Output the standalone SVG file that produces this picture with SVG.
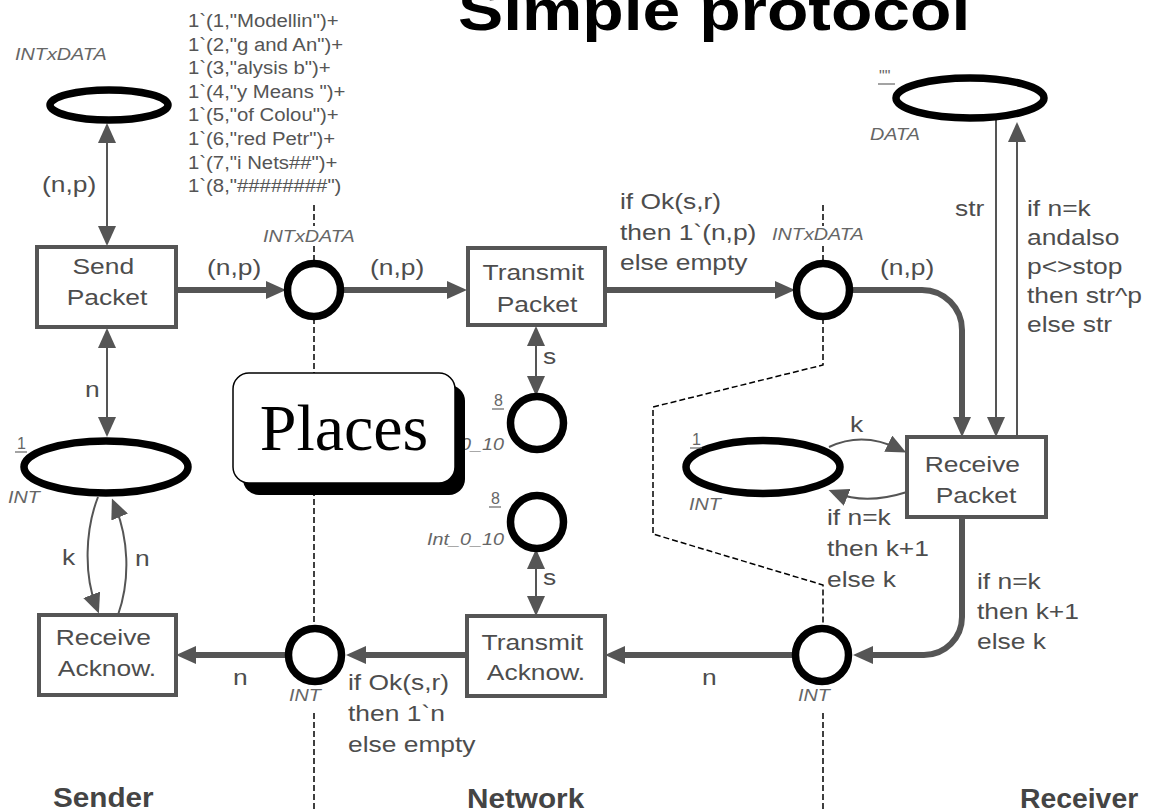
<svg xmlns="http://www.w3.org/2000/svg" width="1151" height="812" viewBox="0 0 1151 812">
  <style>
    .lbl { font-family: "Liberation Sans", Arial, sans-serif; font-size: 22px; fill: #4d4d4d; }
    .typ { font-family: "Liberation Sans", Arial, sans-serif; font-size: 16.5px; font-style: italic; fill: #666; }
    .tok { font-family: "Liberation Sans", Arial, sans-serif; font-size: 18px; fill: #555; }
    .mark { font-family: "Liberation Sans", Arial, sans-serif; font-size: 16px; fill: #666; }
    .head { font-family: "Liberation Sans", Arial, sans-serif; font-size: 27px; font-weight: bold; fill: #444; }
    .title { font-family: "Liberation Sans", Arial, sans-serif; font-size: 57px; font-weight: bold; fill: #000; }
    .place { fill: #fff; stroke: #000; stroke-width: 7.5; }
    .trans { fill: #fff; stroke: #555; stroke-width: 4; }
    .arc { fill: none; stroke: #555; stroke-width: 2; }
    .arcw { fill: none; stroke: #555; stroke-width: 6; }
    .bound { fill: none; stroke: #000; stroke-width: 1.5; stroke-dasharray: 6 3; }
    .ul { stroke: #666; stroke-width: 1.2; }
  </style>
  <defs>
    <marker id="ah" markerUnits="userSpaceOnUse" markerWidth="20" markerHeight="18" refX="12" refY="9" orient="auto-start-reverse">
      <path d="M0,0 L20,9 L0,18 z" fill="#555"/>
    </marker>
  </defs>

  <rect width="1151" height="812" fill="#fff"/>

  <!-- title -->
  <text class="title" transform="translate(458,0) scale(1.19,1)" x="0" y="30">Simple protocol</text>

  <!-- page boundaries between sender, network and receiver -->
  <g id="boundaries">
    <path class="bound" d="M314,205 V226 M314,246 V264 M314,318 V376 M314,490 V628 M314,713 V812"/>
    <path class="bound" d="M823,205 V226 M823,246 V264 M823,318 V365 L653,407 V534 L823,585 V628 M823,713 V812"/>
  </g>

  <!-- arcs -->
  <g id="connectors">
    <path class="arc" d="M107,131 V238" marker-start="url(#ah)" marker-end="url(#ah)"/>
    <path class="arc" d="M107,336 V429" marker-start="url(#ah)" marker-end="url(#ah)"/>
    <path class="arcw" d="M176,290 H278" marker-end="url(#ah)"/>
    <path class="arcw" d="M341,290 H459" marker-end="url(#ah)"/>
    <path class="arcw" d="M605,290 H787" marker-end="url(#ah)"/>
    <path class="arcw" d="M850,290 H922 A40,40 0 0 1 962,330 V429" marker-end="url(#ah)"/>
    <path class="arc" d="M996,119 V429" marker-end="url(#ah)"/>
    <path class="arc" d="M1017,437 V130" marker-end="url(#ah)"/>
    <path class="arc" d="M829,447 Q863,431 899,449" marker-end="url(#ah)"/>
    <path class="arc" d="M907,492 Q866,505 836,493" marker-end="url(#ah)"/>
    <path class="arc" d="M536,334 V388" marker-start="url(#ah)" marker-end="url(#ah)"/>
    <path class="arc" d="M536,557 V608" marker-start="url(#ah)" marker-end="url(#ah)"/>
    <path class="arcw" d="M962,517 V617 A38,38 0 0 1 924,655 H861" marker-end="url(#ah)"/>
    <path class="arcw" d="M793,655 H613" marker-end="url(#ah)"/>
    <path class="arcw" d="M467,655 H354" marker-end="url(#ah)"/>
    <path class="arcw" d="M285,655 H184" marker-end="url(#ah)"/>
    <path class="arc" d="M98,497 C85,530 84,575 96,606" marker-end="url(#ah)"/>
    <path class="arc" d="M118,615 C131,578 128,537 115,506" marker-end="url(#ah)"/>
  </g>

  <!-- arc inscriptions -->
  <g id="inscriptions">
    <text class="lbl" transform="translate(42,0) scale(1.2,1)" y="192">(n,p)</text>
    <text class="lbl" transform="translate(207,0) scale(1.2,1)" y="275">(n,p)</text>
    <text class="lbl" transform="translate(370,0) scale(1.2,1)" y="275">(n,p)</text>
    <text class="lbl" transform="translate(880,0) scale(1.2,1)" y="275">(n,p)</text>
    <text class="lbl" transform="translate(85,0) scale(1.2,1)" y="397">n</text>
    <text class="lbl" transform="translate(62,0) scale(1.2,1)" y="565">k</text>
    <text class="lbl" transform="translate(135,0) scale(1.2,1)" y="566">n</text>
    <text class="lbl" transform="translate(233,0) scale(1.2,1)" y="685">n</text>
    <text class="lbl" transform="translate(702,0) scale(1.2,1)" y="685">n</text>
    <text class="lbl" transform="translate(543,0) scale(1.2,1)" y="364">s</text>
    <text class="lbl" transform="translate(543,0) scale(1.2,1)" y="585">s</text>
    <text class="lbl" transform="translate(850,0) scale(1.2,1)" y="432">k</text>
    <text class="lbl" transform="translate(955,0) scale(1.2,1)" y="216">str</text>
    <text class="lbl" transform="translate(620,0) scale(1.2,1)">
      <tspan x="0" y="209">if Ok(s,r)</tspan>
      <tspan x="0" y="240">then 1`(n,p)</tspan>
      <tspan x="0" y="270">else empty</tspan>
    </text>
    <text class="lbl" transform="translate(1027,0) scale(1.2,1)">
      <tspan x="0" y="216">if n=k</tspan>
      <tspan x="0" y="245">andalso</tspan>
      <tspan x="0" y="274">p&lt;&gt;stop</tspan>
      <tspan x="0" y="303">then str^p</tspan>
      <tspan x="0" y="332">else str</tspan>
    </text>
    <text class="lbl" transform="translate(827,0) scale(1.2,1)">
      <tspan x="0" y="525">if n=k</tspan>
      <tspan x="0" y="556">then k+1</tspan>
      <tspan x="0" y="587">else k</tspan>
    </text>
    <text class="lbl" transform="translate(977,0) scale(1.2,1)">
      <tspan x="0" y="589">if n=k</tspan>
      <tspan x="0" y="619">then k+1</tspan>
      <tspan x="0" y="649">else k</tspan>
    </text>
    <text class="lbl" transform="translate(348,0) scale(1.2,1)">
      <tspan x="0" y="690">if Ok(s,r)</tspan>
      <tspan x="0" y="721">then 1`n</tspan>
      <tspan x="0" y="752">else empty</tspan>
    </text>
  </g>

  <!-- places -->
  <g id="packets-to-send">
    <ellipse class="place" cx="109" cy="105" rx="59" ry="15"/>
    <text class="typ" transform="translate(15,0) scale(1.2,1)" y="60">INTxDATA</text>
    <text class="tok" transform="translate(188,0) scale(1.13,1)">
      <tspan x="0" y="27">1`(1,"Modellin")+</tspan>
      <tspan x="0" y="50.6">1`(2,"g and An")+</tspan>
      <tspan x="0" y="74.2">1`(3,"alysis b")+</tspan>
      <tspan x="0" y="97.8">1`(4,"y Means ")+</tspan>
      <tspan x="0" y="121.4">1`(5,"of Colou")+</tspan>
      <tspan x="0" y="145">1`(6,"red Petr")+</tspan>
      <tspan x="0" y="168.6">1`(7,"i Nets##")+</tspan>
      <tspan x="0" y="192.2">1`(8,"########")</tspan>
    </text>
  </g>

  <g id="next-send">
    <ellipse class="place" cx="106" cy="467" rx="82" ry="26"/>
    <text class="mark" x="17" y="449">1</text>
    <line class="ul" x1="15" y1="452" x2="27" y2="452"/>
    <text class="typ" transform="translate(8,0) scale(1.2,1)" y="503">INT</text>
  </g>

  <g id="a-place">
    <circle class="place" cx="314" cy="290" r="26.5"/>
    <text class="typ" transform="translate(263,0) scale(1.2,1)" y="242">INTxDATA</text>
  </g>

  <g id="b-place">
    <circle class="place" cx="823" cy="290" r="26.5"/>
    <text class="typ" transform="translate(772,0) scale(1.2,1)" y="240">INTxDATA</text>
  </g>

  <g id="received-data">
    <ellipse class="place" cx="970" cy="98" rx="74" ry="20"/>
    <text class="mark" x="879" y="82">""</text>
    <line class="ul" x1="878" y1="84" x2="895" y2="84"/>
    <text class="typ" transform="translate(870,0) scale(1.2,1)" y="140">DATA</text>
  </g>

  <g id="next-rec">
    <ellipse class="place" cx="763" cy="467" rx="77" ry="26.5"/>
    <text class="mark" x="692" y="445">1</text>
    <line class="ul" x1="690" y1="448" x2="702" y2="448"/>
    <text class="typ" transform="translate(689,0) scale(1.2,1)" y="510">INT</text>
  </g>

  <g id="success-packet">
    <circle class="place" cx="537" cy="423" r="26.5"/>
    <text class="mark" x="494" y="406">8</text>
    <line class="ul" x1="492" y1="409" x2="504" y2="409"/>
    <text class="typ" transform="translate(427,0) scale(1.2,1)" y="450">Int_0_10</text>
  </g>

  <g id="success-ack">
    <circle class="place" cx="537" cy="522" r="26.5"/>
    <text class="mark" x="491" y="504">8</text>
    <line class="ul" x1="489" y1="507" x2="501" y2="507"/>
    <text class="typ" transform="translate(427,0) scale(1.2,1)" y="545">Int_0_10</text>
  </g>

  <g id="c-place">
    <circle class="place" cx="822" cy="655" r="26.5"/>
    <text class="typ" transform="translate(798,0) scale(1.2,1)" y="701">INT</text>
  </g>

  <g id="d-place">
    <circle class="place" cx="315" cy="655" r="26.5"/>
    <text class="typ" transform="translate(289,0) scale(1.2,1)" y="701">INT</text>
  </g>

  <!-- transitions -->
  <g id="send-packet">
    <rect class="trans" x="37" y="247" width="139" height="80"/>
    <text class="lbl" text-anchor="middle" transform="translate(107,0) scale(1.2,1)">
      <tspan x="0" y="274">Send</tspan>
      <tspan x="0" y="305">Packet</tspan>
    </text>
  </g>

  <g id="transmit-packet">
    <rect class="trans" x="468" y="248" width="137" height="77"/>
    <text class="lbl" text-anchor="middle" transform="translate(537,0) scale(1.2,1)">
      <tspan x="0" y="280">Transmit</tspan>
      <tspan x="0" y="312">Packet</tspan>
    </text>
  </g>

  <g id="receive-packet">
    <rect class="trans" x="907" y="437" width="139" height="80"/>
    <text class="lbl" text-anchor="middle" transform="translate(976,0) scale(1.2,1)">
      <tspan x="0" y="472">Receive</tspan>
      <tspan x="0" y="503">Packet</tspan>
    </text>
  </g>

  <g id="transmit-ack">
    <rect class="trans" x="467" y="616" width="138" height="80"/>
    <text class="lbl" text-anchor="middle" transform="translate(536,0) scale(1.2,1)">
      <tspan x="0" y="650">Transmit</tspan>
      <tspan x="0" y="680">Acknow.</tspan>
    </text>
  </g>

  <g id="receive-ack">
    <rect class="trans" x="39" y="615" width="137" height="80"/>
    <text class="lbl" text-anchor="middle" transform="translate(107,0) scale(1.2,1)">
      <tspan x="0" y="645">Receive</tspan>
      <tspan x="0" y="676">Acknow.</tspan>
    </text>
  </g>

  <!-- callout -->
  <g id="places-callout">
    <rect x="243" y="385" width="222" height="110" rx="16" fill="#000"/>
    <rect x="233" y="373" width="222" height="110" rx="16" fill="#fff" stroke="#000" stroke-width="1.5"/>
    <text x="344" y="450" text-anchor="middle" font-family="'Liberation Serif', 'Times New Roman', serif" font-size="66" fill="#000">Places</text>
  </g>

  <!-- page names -->
  <g id="page-names">
    <text class="head" transform="translate(53,0) scale(1.1,1)" y="807">Sender</text>
    <text class="head" transform="translate(467,0) scale(1.1,1)" y="808">Network</text>
    <text class="head" transform="translate(1020,0) scale(1.05,1)" y="808">Receiver</text>
  </g>
</svg>
